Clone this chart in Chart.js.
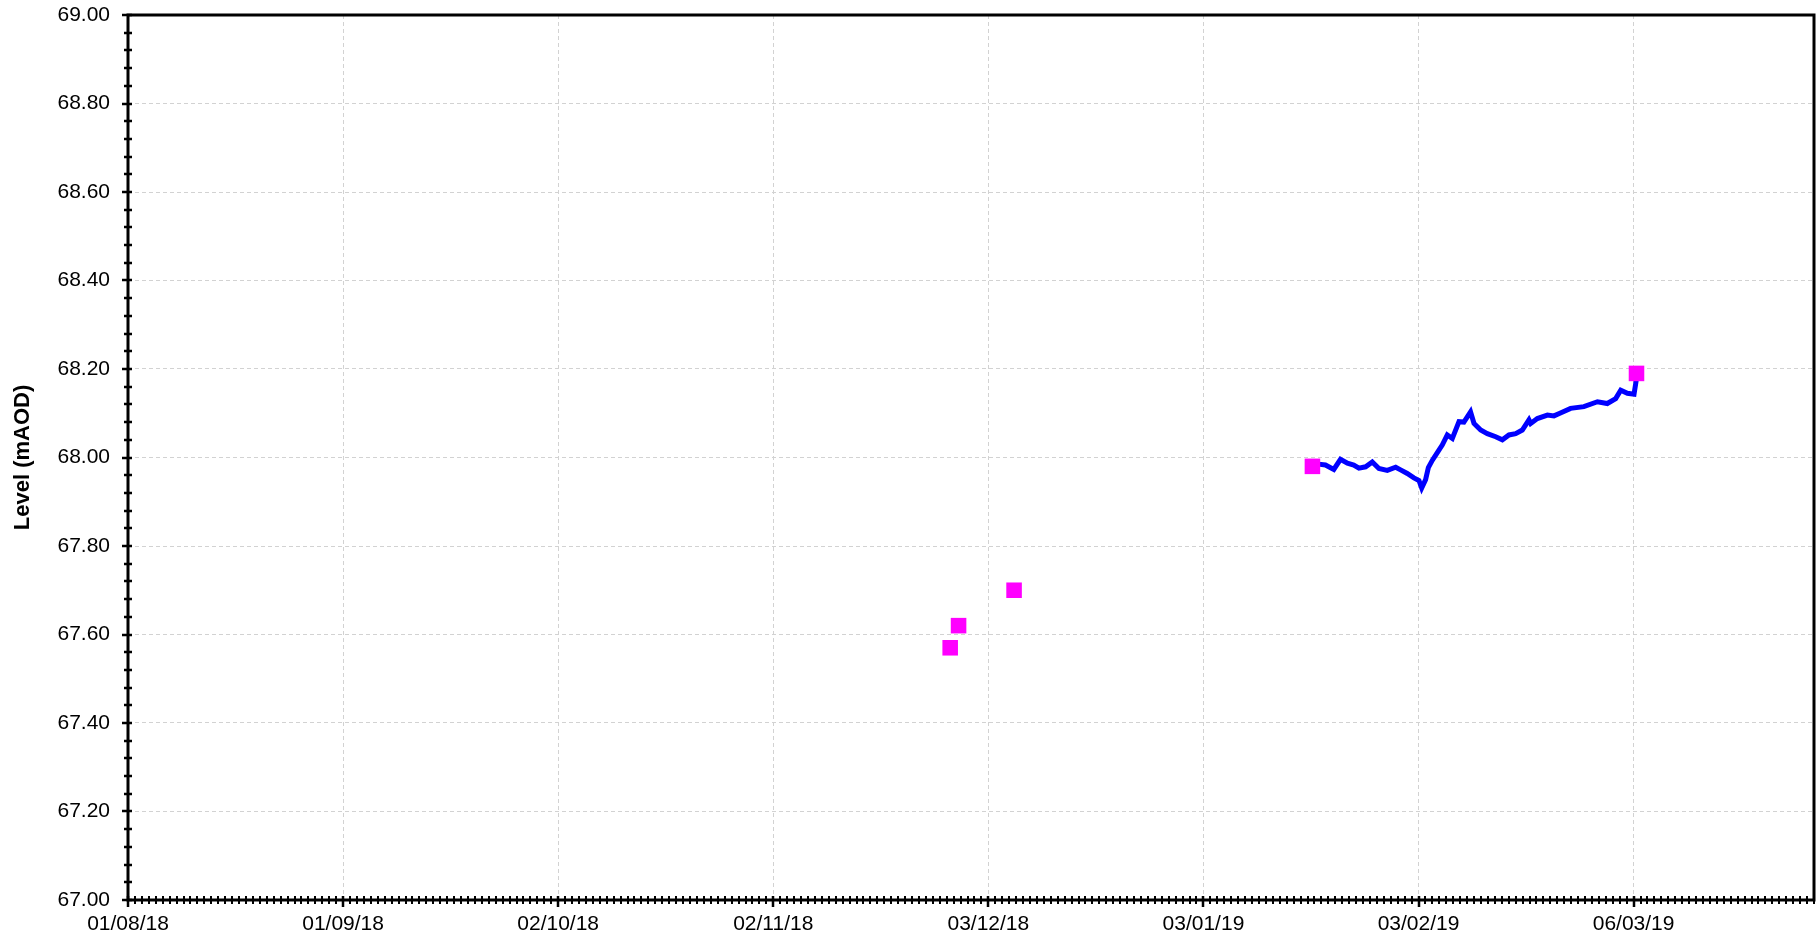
<!DOCTYPE html>
<html>
<head>
    <meta charset="UTF-8">
    <title>Level (mAOD)</title>
    <script src="https://cdn.jsdelivr.net/npm/chart.js"></script>
    <style>
        body {
            margin: 0;
            background-color: #ffffff;
        }

        #chart-container {
            width: 1818px;
            height: 941px;
        }
    </style>
</head>
<body>
<div id="chart-container">
    <canvas id="levelChart"></canvas>
</div>

<script>
        // ручные замеры (dip readings)
        const dipTimes = ['2018-11-27T12:00', '2018-11-28T17:00', '2018-12-06T17:00', '2019-01-18T17:00', '2019-03-06T10:00'];
        const dipLevels = [67.57, 67.62, 67.70, 67.98, 68.19];

        // логгер (continuous logger record)
        const loggerTimes = [
            '2019-01-19T14:00', '2019-01-20T14:00', '2019-01-21T19:00', '2019-01-22T18:00', '2019-01-23T18:00',
            '2019-01-24T16:00', '2019-01-25T10:00', '2019-01-26T09:00', '2019-01-27T08:00', '2019-01-28T07:00',
            '2019-01-29T12:00', '2019-01-30T17:00', '2019-01-31T10:00', '2019-02-01T09:00', '2019-02-02T08:00',
            '2019-02-03T01:30', '2019-02-03T11:00', '2019-02-04T00:30', '2019-02-04T10:00', '2019-02-05T00:00',
            '2019-02-05T17:00', '2019-02-06T10:00', '2019-02-07T03:30', '2019-02-07T21:00', '2019-02-08T20:00',
            '2019-02-09T13:00', '2019-02-10T12:00', '2019-02-11T00:00', '2019-02-11T23:00', '2019-02-12T22:00',
            '2019-02-14T03:00', '2019-02-15T02:00', '2019-02-16T01:00', '2019-02-17T00:00', '2019-02-17T23:00',
            '2019-02-18T22:00', '2019-02-19T04:00', '2019-02-20T03:00', '2019-02-21T14:00', '2019-02-22T12:30',
            '2019-02-23T09:00', '2019-02-24T22:00', '2019-02-26T20:00', '2019-02-28T19:00', '2019-03-02T05:00',
            '2019-03-03T10:00', '2019-03-04T03:30', '2019-03-05T02:30', '2019-03-06T01:30', '2019-03-06T07:30',
            '2019-03-06T11:00'
        ];
        const loggerLevels = [
            67.985, 67.983, 67.973, 67.996, 67.987,
            67.983, 67.976, 67.979, 67.990, 67.975,
            67.971, 67.978, 67.972, 67.964, 67.954,
            67.948, 67.931, 67.950, 67.977, 67.994,
            68.011, 68.028, 68.051, 68.043, 68.081,
            68.080, 68.103, 68.077, 68.062, 68.054,
            68.047, 68.040, 68.051, 68.054, 68.062,
            68.085, 68.077, 68.088, 68.096, 68.094,
            68.100, 68.111, 68.115, 68.126, 68.122,
            68.133, 68.152, 68.145, 68.143, 68.168,
            68.183
        ];

        const xTickDates = ['2018-08-01', '2018-09-01', '2018-10-02', '2018-11-02', '2018-12-03', '2019-01-03', '2019-02-03', '2019-03-06'];
        const xStart = '2018-08-01';
        const xEnd = '2019-04-01';
        const yMin = 67.0;
        const yMax = 69.0;
        const yStep = 0.2;

        const DAY = 86400000;
        const toMs = s => Date.parse(s.length === 10 ? s + 'T00:00Z' : s + 'Z');
        const pad2 = n => String(n).padStart(2, '0');
        const fmtDate = v => {
            const d = new Date(v);
            return pad2(d.getUTCDate()) + '/' + pad2(d.getUTCMonth() + 1) + '/' + String(d.getUTCFullYear()).slice(2);
        };

        const fontFamily = '"Liberation Sans", Arial, Helvetica, sans-serif';

        // chart.js оставляет справа лишнее место - подрезаем область графика
        const rightEdge = {
            id: 'rightEdge',
            afterLayout(chart) {
                const a = chart.chartArea;
                const x = chart.scales.x;
                a.right = chart.width - 4;
                a.width = a.right - a.left;
                x.right = a.right;
                x.width = a.width;
                x.configure();
            }
        };

        // мелкие деления и рамка
        const axisDecor = {
            id: 'axisDecor',
            afterDraw(chart) {
                const {ctx, chartArea: a, scales: {x, y}} = chart;
                ctx.save();
                ctx.strokeStyle = '#000';

                ctx.lineWidth = 2;
                ctx.beginPath();
                for (let t = x.min; t <= x.max + 1; t += DAY) {
                    const px = Math.round(x.getPixelForValue(t));
                    ctx.moveTo(px, a.bottom - 4);
                    ctx.lineTo(px, a.bottom + 4);
                }
                ctx.stroke();

                ctx.lineWidth = 2.5;
                ctx.beginPath();
                xTickDates.forEach(d => {
                    const px = Math.round(x.getPixelForValue(toMs(d)));
                    ctx.moveTo(px, a.bottom - 4);
                    ctx.lineTo(px, a.bottom + 7);
                });
                ctx.stroke();

                const n = Math.round((yMax - yMin) / 0.04);
                ctx.beginPath();
                for (let i = 0; i <= n; i++) {
                    const py = Math.round(y.getPixelForValue(yMin + i * 0.04));
                    const major = i % 5 === 0;
                    ctx.moveTo(a.left - (major ? 6 : 4), py);
                    ctx.lineTo(a.left + 4, py);
                }
                ctx.stroke();

                ctx.lineWidth = 3;
                ctx.strokeRect(a.left, a.top, a.right - a.left, a.bottom - a.top);
                ctx.restore();
            }
        };

        const ctx = document.getElementById('levelChart').getContext('2d');
        new Chart(ctx, {
            type: 'scatter',
            data: {
                datasets: [{
                    label: 'Dip',
                    data: dipTimes.map((t, i) => ({x: toMs(t), y: dipLevels[i]})),
                    pointStyle: 'rect',
                    pointRadius: 11,
                    pointHoverRadius: 11,
                    backgroundColor: '#ff00ff',
                    borderWidth: 0,
                    order: 0
                }, {
                    label: 'Logger',
                    data: loggerTimes.map((t, i) => ({x: toMs(t), y: loggerLevels[i]})),
                    showLine: true,
                    borderColor: '#0000ff',
                    borderWidth: 5,
                    pointRadius: 0,
                    tension: 0,
                    order: 1
                }]
            },
            options: {
                responsive: true,
                maintainAspectRatio: false,
                animation: false,
                layout: {
                    padding: {top: 15, right: 4, left: 0, bottom: 0}
                },
                scales: {
                    x: {
                        type: 'linear',
                        min: toMs(xStart),
                        max: toMs(xEnd),
                        afterBuildTicks: s => {
                            s.ticks = xTickDates.map(d => ({value: toMs(d)}));
                        },
                        afterFit: s => {
                            s.height = 41;
                            s.paddingLeft = 0;
                            s.paddingRight = 0;
                        },
                        ticks: {
                            callback: v => fmtDate(v),
                            autoSkip: false,
                            maxRotation: 0,
                            padding: 12,
                            color: '#000',
                            font: {family: fontFamily, size: 21}
                        },
                        grid: {
                            color: '#d2d2d2',
                            lineWidth: 1,
                            drawTicks: false
                        },
                        border: {display: false, dash: [4, 3]}
                    },
                    y: {
                        min: yMin,
                        max: yMax,
                        afterFit: s => {
                            s.width = 128;
                            s.paddingTop = 0;
                            s.paddingBottom = 0;
                        },
                        ticks: {
                            stepSize: yStep,
                            callback: v => v.toFixed(2),
                            padding: 18,
                            color: '#000',
                            font: {family: fontFamily, size: 21}
                        },
                        grid: {
                            color: '#d2d2d2',
                            lineWidth: 1,
                            drawTicks: false
                        },
                        border: {display: false, dash: [4, 3]},
                        title: {
                            display: true,
                            text: 'Level (mAOD)',
                            color: '#000',
                            padding: {top: 10, bottom: 0},
                            font: {family: fontFamily, size: 22, weight: 'bold'}
                        }
                    }
                },
                plugins: {
                    legend: {display: false},
                    tooltip: {enabled: false}
                }
            },
            plugins: [rightEdge, axisDecor]
        });
    </script>
</body>
</html>
